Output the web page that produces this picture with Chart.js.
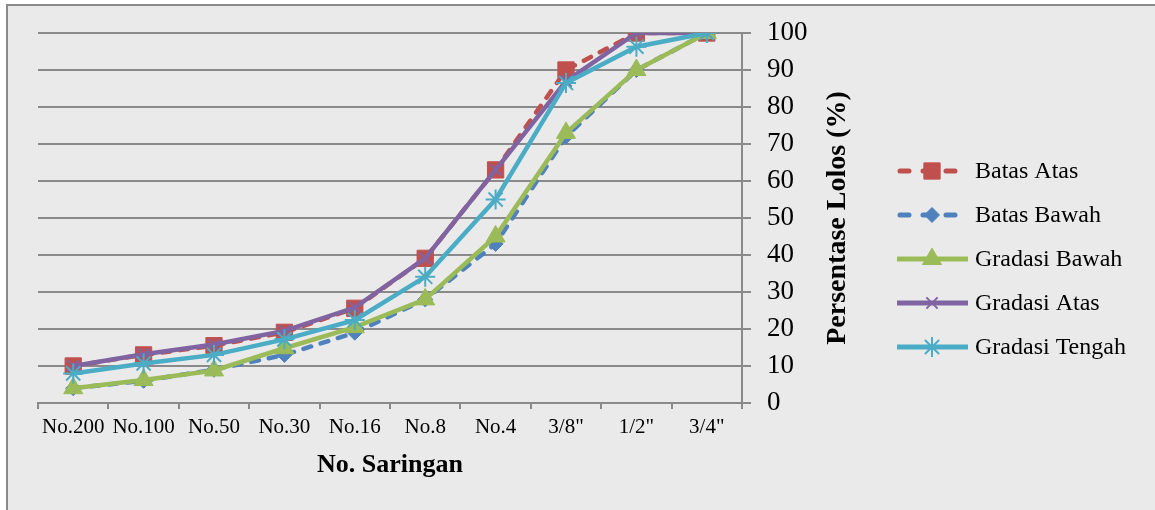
<!DOCTYPE html>
<html>
<head>
<meta charset="utf-8">
<script src="https://cdn.jsdelivr.net/npm/chart.js@4/dist/chart.umd.min.js"></script>
<style>
  html, body { margin: 0; padding: 0; background: #ffffff; }
  #c { display: block; }
</style>
</head>
<body>
<canvas id="c" width="1155" height="510"></canvas>
<script>
// Sieve sizes (x axis categories)
const sieves = ['No.200', 'No.100', 'No.50', 'No.30', 'No.16', 'No.8', 'No.4', '3/8"', '1/2"', '3/4"'];

// Percent passing for each curve
const batasAtas     = [10, 13, 15.5, 19.1, 25.6, 39.1, 63, 90, 100, 100];
const batasBawah    = [4, 6, 9, 13, 19, 28, 43, 72, 90, 100];
const gradasiBawah  = [4, 6.2, 8.8, 14.8, 20.5, 28, 45, 73, 90, 100];
const gradasiAtas   = [10, 13.2, 15.8, 19.5, 25.8, 39.1, 63, 87, 100, 100];
const gradasiTengah = [8, 10.7, 13, 17.2, 22.4, 34.1, 55, 86.5, 96.3, 100];

// Y axis ticks
const yTicks = [0, 10, 20, 30, 40, 50, 60, 70, 80, 90, 100];

const SERIF = "'Liberation Serif', 'DejaVu Serif', serif";
const GRID = '#8a8a8a';

const series = [
  { label: 'Batas Atas',     data: batasAtas,     color: '#C0504D', style: 'rect',    r: 11.5, dash: true,  order: 5 },
  { label: 'Batas Bawah',    data: batasBawah,    color: '#4F81BD', style: 'rectRot', r: 7.5,  dash: true,  order: 4 },
  { label: 'Gradasi Bawah',  data: gradasiBawah,  color: '#9BBB59', style: 'triangle',r: 11,   dash: false, order: 3 },
  { label: 'Gradasi Atas',   data: gradasiAtas,   color: '#8064A2', style: 'crossRot',r: 8,    dash: false, order: 2 },
  { label: 'Gradasi Tengah', data: gradasiTengah, color: '#4BACC6', style: 'star',    r: 10,   dash: false, order: 1 }
];

const datasets = series.map(s => ({
  label: s.label,
  data: s.data,
  borderColor: s.color,
  backgroundColor: s.color,
  borderWidth: 4.5,
  borderDash: s.dash ? [8, 10] : [],
  borderCapStyle: s.dash ? 'round' : 'butt',
  tension: 0,
  pointStyle: s.style,
  pointRadius: s.r,
  pointHoverRadius: s.r,
  pointBackgroundColor: s.color,
  pointBorderColor: s.color,
  pointBorderWidth: (s.style === 'crossRot' || s.style === 'star') ? 2 : 1,
  order: s.order,
  fill: false
}));

// Panel background and frame
const framePlugin = {
  id: 'frame',
  beforeDraw(chart) {
    const ctx = chart.ctx;
    ctx.save();
    ctx.fillStyle = '#ffffff';
    ctx.fillRect(0, 0, chart.width, chart.height);
    ctx.fillStyle = '#eaeaea';
    ctx.fillRect(7, 4, chart.width - 7, chart.height - 4);
    ctx.strokeStyle = GRID;
    ctx.lineWidth = 2;
    ctx.beginPath();
    ctx.moveTo(7, chart.height);
    ctx.lineTo(7, 5);
    ctx.lineTo(chart.width, 5);
    ctx.stroke();
    ctx.restore();
  }
};

// Vertical axis title, reading bottom to top
const yTitlePlugin = {
  id: 'yTitle',
  afterDraw(chart) {
    const ctx = chart.ctx;
    const area = chart.chartArea;
    ctx.save();
    ctx.translate(838, (area.top + area.bottom) / 2);
    ctx.rotate(-Math.PI / 2);
    ctx.fillStyle = '#000';
    ctx.font = "bold 28px " + SERIF;
    ctx.textAlign = 'center';
    ctx.textBaseline = 'middle';
    ctx.fillText('Persentase Lolos (%)', 0, 0);
    ctx.restore();
  }
};

function drawMarker(ctx, style, x, y, r, color) {
  const opts = { pointStyle: style, radius: r, rotation: 0, borderWidth: (style === 'crossRot' || style === 'star') ? 2 : 1 };
  ctx.save();
  ctx.fillStyle = color;
  ctx.strokeStyle = color;
  ctx.lineWidth = opts.borderWidth;
  ctx.setLineDash([]);
  if (Chart.helpers && Chart.helpers.drawPoint) {
    Chart.helpers.drawPoint(ctx, opts, x, y);
  } else {
    ctx.beginPath();
    ctx.arc(x, y, r * 0.7, 0, Math.PI * 2);
    ctx.fill();
  }
  ctx.restore();
}

// Legend with line samples and markers
const legendPlugin = {
  id: 'sideLegend',
  afterDraw(chart) {
    const ctx = chart.ctx;
    const x0 = 897, x1 = 968, mx = 932, tx = 975;
    const rows = [171, 215, 259, 303, 347];
    series.forEach((s, i) => {
      const y = rows[i];
      ctx.save();
      ctx.strokeStyle = s.color;
      ctx.lineWidth = 5;
      if (s.dash) {
        ctx.setLineDash([9, 14]);
        ctx.lineCap = 'round';
        ctx.beginPath();
        ctx.moveTo(x0 + 3, y);
        ctx.lineTo(x1 - 9, y);
        ctx.stroke();
      } else {
        ctx.lineCap = 'butt';
        ctx.beginPath();
        ctx.moveTo(x0, y);
        ctx.lineTo(x1, y);
        ctx.stroke();
      }
      ctx.restore();
      drawMarker(ctx, s.style, mx, y, s.r, s.color);
      ctx.save();
      ctx.fillStyle = '#000';
      ctx.font = "24px " + SERIF;
      ctx.textAlign = 'left';
      ctx.textBaseline = 'middle';
      ctx.fillText(s.label, tx, y + 1);
      ctx.restore();
    });
  }
};

new Chart(document.getElementById('c'), {
  type: 'line',
  data: { labels: sieves, datasets },
  options: {
    responsive: false,
    animation: false,
    events: [],
    layout: { padding: { left: 38, top: 33, right: 313, bottom: 0 } },
    plugins: {
      legend: { display: false },
      tooltip: { enabled: false },
      title: { display: false }
    },
    scales: {
      x: {
        type: 'category',
        offset: true,
        grid: { display: true, drawOnChartArea: false, drawTicks: true, tickLength: 6, color: GRID, lineWidth: 2, offset: true },
        border: { display: true, color: GRID, width: 2 },
        ticks: { color: '#000', font: { family: SERIF, size: 21 }, padding: 6, maxRotation: 0, autoSkip: false },
        title: { display: true, text: 'No. Saringan', color: '#000', font: { family: SERIF, size: 26, weight: 'bold' }, padding: { top: 4, bottom: 29 } },
        afterFit(scale) { scale.height = 107; }
      },
      y: {
        position: 'right',
        min: 0,
        max: 100,
        afterBuildTicks(scale) { scale.ticks = yTicks.map(v => ({ value: v })); },
        grid: { color: GRID, lineWidth: 2, tickLength: 9, drawTicks: true },
        border: { display: true, color: GRID, width: 2 },
        ticks: { color: '#000', font: { family: SERIF, size: 27 }, padding: 16 },
        afterFit(scale) { scale.width = 100; }
      }
    }
  },
  plugins: [framePlugin, yTitlePlugin, legendPlugin]
});
</script>
</body>
</html>
